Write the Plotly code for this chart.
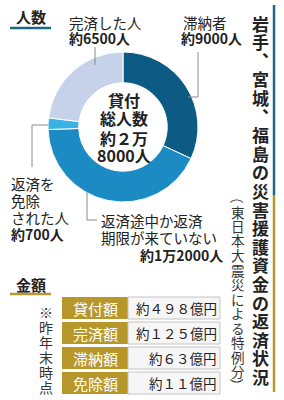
import plotly.graph_objects as go

# ---------------- data ----------------
categories = ["滞納者", "返済途中か返済期限が来ていない", "返済を免除された人", "完済した人"]
people = [9000, 12000, 700, 6500]
slice_colors = ["#0d5a85", "#1c8bc4", "#3ab3e4", "#c6d2e9"]

amount_labels = ["貸付額", "完済額", "滞納額", "免除額"]
amount_values = [498, 125, 63, 11]  # 億円

title_text = "岩手、宮城、福島の災害援護資金の返済状況"
subtitle_text = "（東日本大震災による特例分）"
note_text = "※昨年末時点"

# ---------------- helpers ----------------
W, H = 284, 400
FONT = "Noto Sans CJK JP"
TXT = "#222222"
BLUE_LINE = "#1d6786"
GOLD = "#b8972a"


def X(px):
    return px / W


def Y(py):
    return 1 - py / H


def fw(s):
    return s.translate(str.maketrans("0123456789", "０１２３４５６７８９"))


def ppl(n):
    if n >= 10000:
        return f"約{n // 10000}万{n % 10000}人"
    return f"約{n}人"


annotations = []
shapes = []


def text(x, y, s, size=14, bold=False, anchor="left", color=TXT, angle=0,
         xshift=0, yshift=0):
    annotations.append(dict(
        x=X(x), y=Y(y), xref="paper", yref="paper", text=s, showarrow=False,
        xanchor=anchor, yanchor="middle", textangle=angle,
        xshift=xshift, yshift=yshift, borderpad=0,
        font=dict(family=FONT, size=size, color=color,
                  weight="bold" if bold else "normal")))


def line(x0, y0, x1, y1, color="#8a8a8a", width=1):
    shapes.append(dict(type="line", xref="paper", yref="paper",
                       x0=X(x0), y0=Y(y0), x1=X(x1), y1=Y(y1),
                       line=dict(color=color, width=width)))


def rect(x0, y0, x1, y1, fill, lc=None, lw=0):
    shapes.append(dict(type="rect", xref="paper", yref="paper",
                       x0=X(x0), y0=Y(y0), x1=X(x1), y1=Y(y1),
                       fillcolor=fill, line=dict(color=lc or fill, width=lw),
                       layer="below"))


def vertical(s, x, y0, step, size, bold=False, color=TXT):
    for i, ch in enumerate(s):
        y = y0 + i * step
        if ch == "、":
            text(x, y, ch, size, bold, "center", color,
                 xshift=size * 0.6, yshift=size * 0.6)
        elif ch in "（）":
            text(x, y, ch, size, bold, "center", color, angle=90)
        else:
            text(x, y, ch, size, bold, "center", color)


# ---------------- donut ----------------
fig = go.Figure(go.Pie(
    values=people, labels=categories, sort=False, direction="clockwise",
    rotation=0, hole=0.59, textinfo="none", hoverinfo="skip",
    showlegend=False,
    marker=dict(colors=slice_colors, line=dict(color="white", width=1)),
    domain=dict(x=[X(48), X(198)], y=[Y(202), Y(52)]),
))

# section headers
text(15, 16, "人数", 15, True)
line(10, 28, 51, 28, BLUE_LINE, 2.5)
text(15, 284, "金額", 15, True)
line(10, 294, 51, 294, GOLD, 2.5)

# slice labels
text(68, 22, categories[3], 14.5)
text(68, 38, ppl(people[3]), 14, True)
line(95, 47, 95, 65)

text(182, 22, categories[0], 14.5)
text(180, 38, ppl(people[0]), 14, True)
line(198, 52, 198, 97)
line(198, 97, 188, 97)

for i, part in enumerate(["返済を", "免除", "された人"]):
    text(10, 183 + i * 17, part, 14.5)
text(10, 234, ppl(people[2]), 14, True)
line(48, 125, 32, 125)
line(32, 125, 32, 167)

text(100, 220, "返済途中か返済", 14.5)
text(100, 237, "期限が来ていない", 14.5)
text(224, 255, ppl(people[1]), 14, True, anchor="right")
line(87, 192, 87, 220)
line(87, 220, 97, 220)

# center text
total = round(sum(people) / 1000) * 1000
for i, part in enumerate(["貸付", "総人数", fw(f"約{total // 10000}万"),
                          f"{total % 10000}人"]):
    text(124, [100, 118, 138, 155][i], part, 16, True, anchor="center")

# ---------------- table ----------------
for i, (lab, val) in enumerate(zip(amount_labels, amount_values)):
    top = 297 + i * 25
    bot = top + 22
    rect(62, top, 128, bot, GOLD)
    rect(128, top, 220, bot, "#f6f6f6", "#c4c4c4", 1)
    text(95, (top + bot) / 2, lab, 15, False, "center", "white")
    text(218, (top + bot) / 2, fw(f"約{val}") + "億円", 13.5, False, "right")

vertical(note_text, 46, 312, 15, 14, color="#333333")

# ---------------- vertical title ----------------
line(274, 5, 274, 195, BLUE_LINE, 2.5)
line(274, 195, 274, 392, GOLD, 2.5)
vertical(title_text, 260, 23, 18.6, 17, True)
vertical(subtitle_text, 238, 197, 14.5, 13.5, color="#333333")

fig.update_layout(
    width=W, height=H, margin=dict(l=0, r=0, t=0, b=0),
    paper_bgcolor="white", plot_bgcolor="white",
    annotations=annotations, shapes=shapes, showlegend=False,
)

fig.write_html("out.html")
